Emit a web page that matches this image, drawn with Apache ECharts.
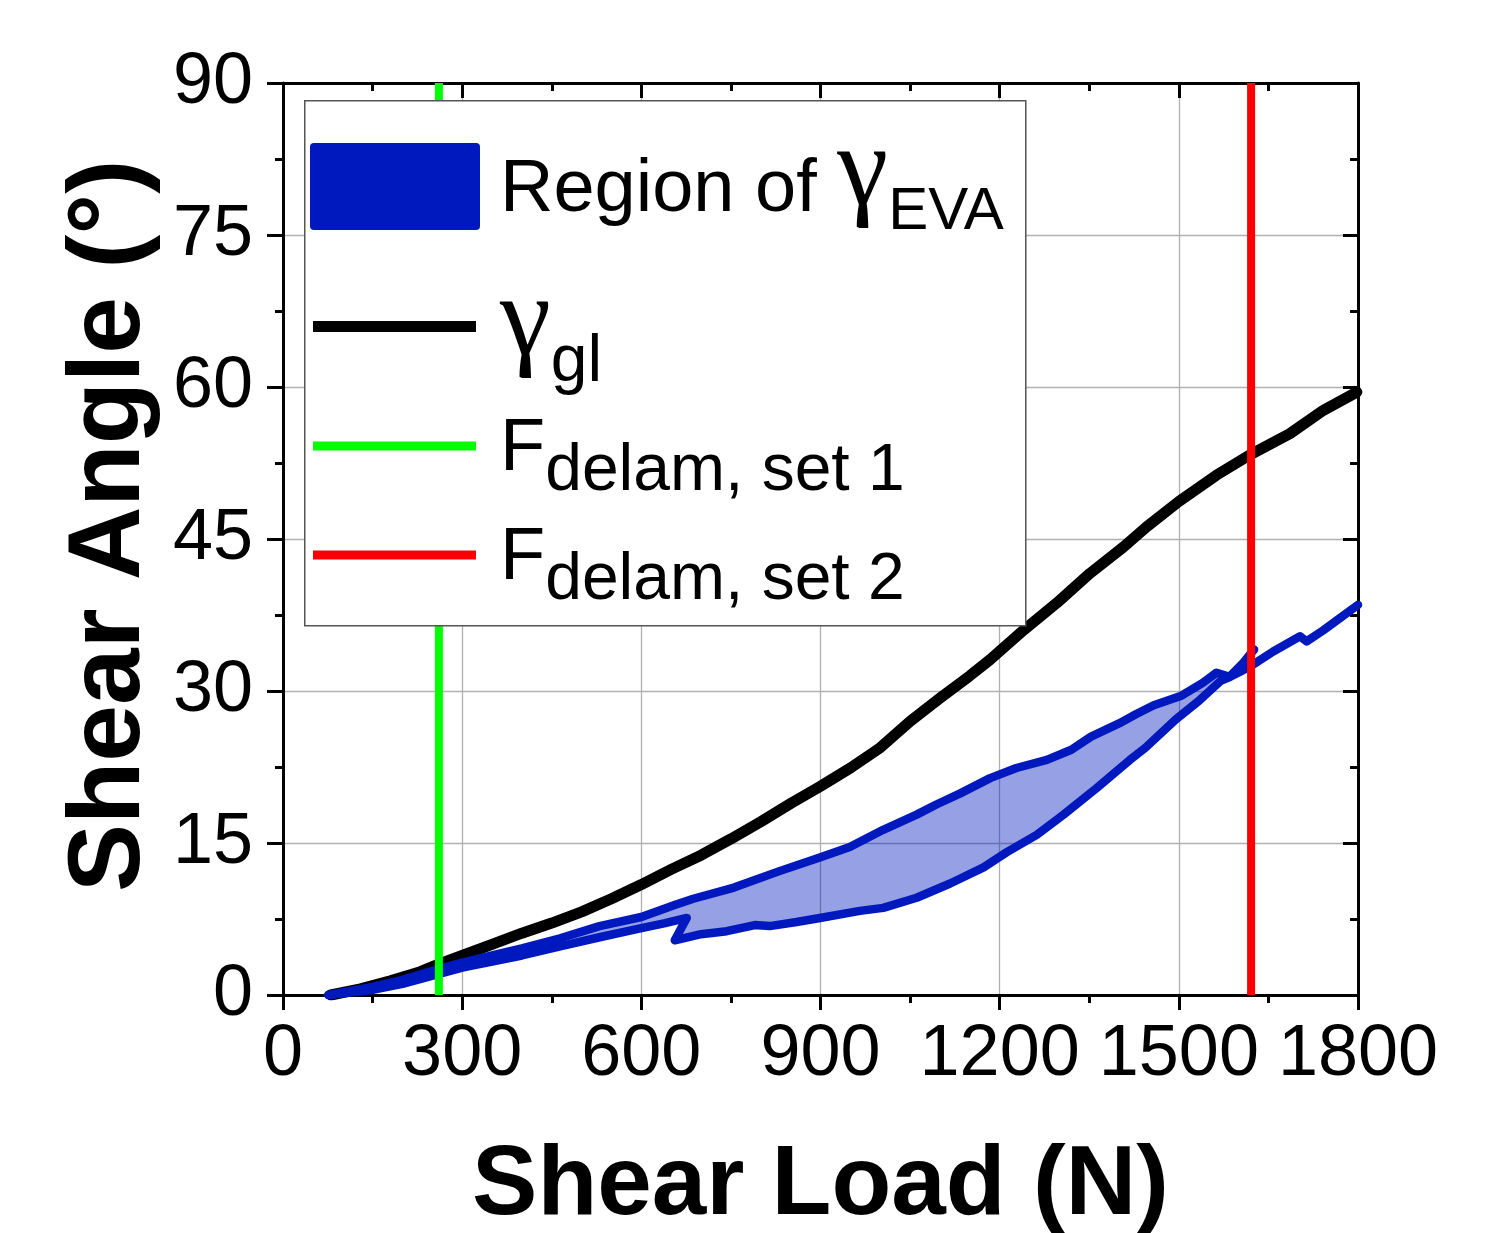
<!DOCTYPE html>
<html>
<head>
<meta charset="utf-8">
<script src="https://cdn.jsdelivr.net/npm/echarts@6/dist/echarts.min.js"></script>
<style>
html,body{margin:0;padding:0;background:#fff;}
#chart{width:1508px;height:1233px;}
</style>
</head>
<body>
<div id="chart"></div>
<script>
// ---- data ----
const loadTicks = [0, 300, 600, 900, 1200, 1500, 1800];
const angleTicks = [0, 15, 30, 45, 60, 75, 90];

// gamma_gl (black)
const glLoad  = [80,130,180,230,263,300,350,400,450,500,550,600,650,700,750,800,850,900,950,1000,1050,1100,1150,1184,1240,1296,1351,1407,1446,1500,1563,1619,1686,1742,1798];
const glAngle = [0,0.6,1.4,2.3,3.1,3.9,5.0,6.1,7.1,8.2,9.5,10.9,12.4,13.8,15.4,17.1,18.9,20.6,22.4,24.4,27.0,29.3,31.5,33.1,36.0,38.7,41.6,44.2,46.2,48.7,51.3,53.3,55.4,57.7,59.5];

// gamma_EVA upper boundary (blue)
const evaUpperLoad  = [76,150,200,263,300,350,400,464,530,600,657,687,755,830,900,949,1005,1061,1094,1134,1184,1228,1279,1320,1353,1400,1428,1458,1503,1540,1563,1585,1608,1626];
const evaUpperAngle = [0,0.8,1.5,2.6,3.2,3.9,4.6,5.6,6.8,7.7,8.9,9.5,10.6,12.2,13.6,14.6,16.3,17.8,18.8,19.9,21.4,22.4,23.2,24.2,25.5,26.8,27.7,28.6,29.5,30.8,31.8,31.4,32.8,34.1];

// gamma_EVA lower boundary (blue), continuing as the single tail
const evaLowerLoad  = [76,150,200,263,300,350,400,464,530,600,640,676,656,700,743,790,815,860,899,966,1005,1061,1117,1173,1212,1262,1307,1362,1418,1444,1495,1533,1570,1586,1619,1658,1703,1714,1742,1770,1800];
const evaLowerAngle = [0,0.5,1.1,2.1,2.7,3.3,3.9,4.8,5.7,6.6,7.1,7.6,5.4,6.0,6.3,6.9,6.8,7.2,7.6,8.3,8.6,9.6,11.0,12.6,14.1,15.8,17.8,20.4,23.2,24.4,27.2,29.0,31.0,31.4,32.4,33.9,35.4,34.9,36.0,37.2,38.5];

const regionEnd = 1580;          // load where the two EVA branches meet
const delamSet1 = 261;           // F_delam, set 1 (N)
const delamSet2 = 1621;          // F_delam, set 2 (N)

const seriesNames = ['Region of γEVA', 'γgl', 'Fdelam, set 1', 'Fdelam, set 2'];

// ---- build ----
const pairs = (xs, ys) => xs.map((x, i) => [x, ys[i]]);
const prefixUntil = (pts, lim) => { const out = []; for (const p of pts) { if (p[0] > lim) break; out.push(p); } return out; };

const glData = pairs(glLoad, glAngle);
const upData = pairs(evaUpperLoad, evaUpperAngle);
const loData = pairs(evaLowerLoad, evaLowerAngle);
const polyData = prefixUntil(upData, regionEnd).concat(prefixUntil(loData, regionEnd).reverse());
const yMin = angleTicks[0], yMax = angleTicks[angleTicks.length - 1];
const xMin = loadTicks[0], xMax = loadTicks[loadTicks.length - 1];

const FONT = "'Liberation Sans', Arial, sans-serif";
const BLUE = '#0019be';

const chart = echarts.init(document.getElementById('chart'), null, {renderer: 'canvas'});

const rich = {
  b: {fontSize: 74, fontFamily: FONT, color: '#000', lineHeight: 90, padding: [26, 0, 18, 0], verticalAlign: 'middle'},
  g: {fontSize: 115, fontFamily: "'Liberation Serif', serif", color: '#000', lineHeight: 90, padding: [0, 0, 26, 0], verticalAlign: 'middle'},
  s: {fontSize: 66, fontFamily: FONT, color: '#000', lineHeight: 90, padding: [55, 0, 3, 0], verticalAlign: 'middle'},
  e: {fontSize: 60, fontFamily: FONT, color: '#000', lineHeight: 90, padding: [55, 0, 3, 0], verticalAlign: 'middle'}
};
const legendFmt = {
  'Region of γEVA': '{b|Region of }{g|γ}{e|EVA}',
  'γgl': '{g|γ}{s|gl}',
  'Fdelam, set 1': '{b|F}{s|delam, set 1}',
  'Fdelam, set 2': '{b|F}{s|delam, set 2}'
};
const roundIcon = 'path://M4,0 L166,0 Q170,0 170,4 L170,83 Q170,87 166,87 L4,87 Q0,87 0,83 L0,4 Q0,0 4,0 Z';
function mkLegend(name, left, top, w, h, icon, color, tpad) {
  return {
    data: [{name: name, icon: icon, itemStyle: {color: color, borderWidth: 0}}],
    left: left, top: top, padding: 0, orient: 'vertical',
    itemWidth: w, itemHeight: h, selectedMode: false, z: 60,
    formatter: n => legendFmt[n],
    textStyle: {rich: rich, padding: tpad}
  };
}

const axisCommon = {
  type: 'value',
  axisLine: {show: true, onZero: false, lineStyle: {color: '#000', width: 3}},
  splitLine: {show: false},
};
const plain = v => String(v);

const option = {
  animation: false,
  backgroundColor: '#fff',
  grid: {left: 283, right: 150, top: 83, bottom: 238, containLabel: false, outerBoundsMode: 'none'},
  xAxis: [
    Object.assign({}, axisCommon, {
      min: xMin, max: xMax, interval: loadTicks[1] - loadTicks[0], position: 'bottom',
      axisTick: {show: true, inside: false, length: 15, lineStyle: {color: '#000', width: 3}},
      minorTick: {show: true, splitNumber: 2, length: 8, lineStyle: {color: '#000', width: 3}},
      splitLine: {show: true, lineStyle: {color: '#b0b0b0', width: 1.3}},
      axisLabel: {fontSize: 72, fontFamily: FONT, color: '#000', margin: 24, formatter: plain},
      name: 'Shear Load (N)', nameLocation: 'middle', nameGap: 143,
      nameTextStyle: {fontSize: 98, fontWeight: 'bold', fontFamily: FONT, color: '#000'}
    }),
    Object.assign({}, axisCommon, {
      min: xMin, max: xMax, interval: loadTicks[1] - loadTicks[0], position: 'top',
      axisTick: {show: true, inside: true, length: 15, lineStyle: {color: '#000', width: 3}},
      minorTick: {show: true, splitNumber: 2, length: 8, lineStyle: {color: '#000', width: 3}},
      axisLabel: {show: false}
    })
  ],
  yAxis: [
    Object.assign({}, axisCommon, {
      min: yMin, max: yMax, interval: angleTicks[1] - angleTicks[0], position: 'left',
      axisTick: {show: true, inside: false, length: 16, lineStyle: {color: '#000', width: 3}},
      minorTick: {show: true, splitNumber: 2, length: 8, lineStyle: {color: '#000', width: 3}},
      splitLine: {show: true, lineStyle: {color: '#b0b0b0', width: 1.3}},
      axisLabel: {fontSize: 72, fontFamily: FONT, color: '#000', margin: 30, formatter: plain},
      name: 'Shear Angle (°)', nameLocation: 'middle', nameGap: 118, nameRotate: 90,
      nameTextStyle: {fontSize: 102, fontWeight: 'bold', fontFamily: FONT, color: '#000', padding: [0, 0, 0, 26]}
    }),
    Object.assign({}, axisCommon, {
      min: yMin, max: yMax, interval: angleTicks[1] - angleTicks[0], position: 'right',
      axisTick: {show: true, inside: true, length: 15, lineStyle: {color: '#000', width: 3}},
      minorTick: {show: true, splitNumber: 2, length: 8, lineStyle: {color: '#000', width: 3}},
      axisLabel: {show: false}
    })
  ],
  legend: [
    mkLegend(seriesNames[0], 310, 116, 170, 87, roundIcon, BLUE, [0, 0, 0, 15]),
    mkLegend(seriesNames[1], 313, 266, 163, 11, 'rect', '#000', [20, 0, 0, 19]),
    mkLegend(seriesNames[2], 313, 384, 163, 9, 'rect', '#00ff00', [0, 0, 0, 19]),
    mkLegend(seriesNames[3], 313, 493, 163, 9, 'rect', '#ff0000', [0, 0, 0, 19])
  ],
  graphic: [{
    type: 'rect', z: 50, left: 304, top: 100,
    shape: {width: 721, height: 525},
    style: {fill: '#fff', stroke: '#555', lineWidth: 1.5}
  }],
  series: [
    {
      name: seriesNames[0], type: 'custom', xAxisIndex: 0, yAxisIndex: 0,
      data: [0], itemStyle: {color: BLUE},
      renderItem: function (params, api) {
        return {
          type: 'polygon',
          shape: {points: polyData.map(p => api.coord(p))},
          style: {fill: 'rgba(0,24,189,0.41)', stroke: null}
        };
      },
      clip: true, silent: true
    },
    {
      name: seriesNames[1], type: 'line', data: glData, showSymbol: false, symbol: 'none',
      lineStyle: {color: '#000', width: 11, join: 'round', cap: 'round'}, itemStyle: {color: '#000'}
    },
    {
      name: 'EVA upper', type: 'line', data: upData, showSymbol: false, symbol: 'none',
      lineStyle: {color: BLUE, width: 8.5, join: 'round', cap: 'round'}, itemStyle: {color: BLUE}
    },
    {
      name: 'EVA lower', type: 'line', data: loData, showSymbol: false, symbol: 'none',
      lineStyle: {color: BLUE, width: 8.5, join: 'round', cap: 'round'}, itemStyle: {color: BLUE}
    },
    {
      name: seriesNames[2], type: 'line', data: [[delamSet1, yMin], [delamSet1, yMax]], showSymbol: false, symbol: 'none',
      lineStyle: {color: '#00ff00', width: 8}, itemStyle: {color: '#00ff00'}
    },
    {
      name: seriesNames[3], type: 'line', data: [[delamSet2, yMin], [delamSet2, yMax]], showSymbol: false, symbol: 'none',
      lineStyle: {color: '#ff0000', width: 8}, itemStyle: {color: '#ff0000'}
    }
  ]
};
chart.setOption(option);
</script>
</body>
</html>
